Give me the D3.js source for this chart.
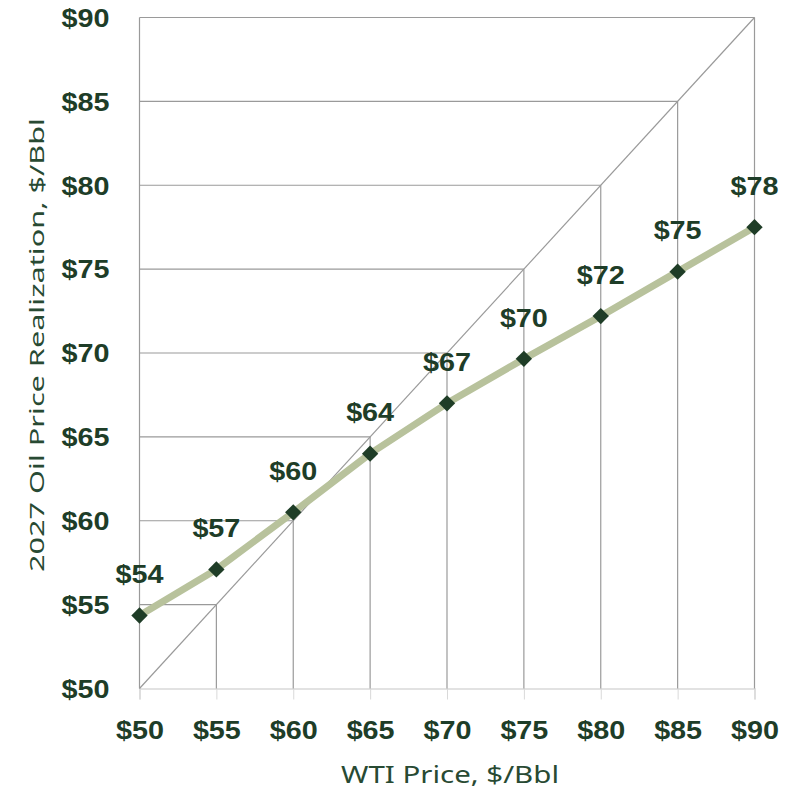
<!DOCTYPE html>
<html><head><meta charset="utf-8">
<script src="https://cdn.jsdelivr.net/npm/d3@7"></script>
<style>body{margin:0;background:#fff;}svg{display:block;}</style>
</head><body><svg id="c" width="785" height="790"></svg>
<script>
const wti = [50,55,60,65,70,75,80,85,90];
const realization = [54.35,57.1,60.5,64.0,67.0,69.65,72.2,74.85,77.5];
const pointLabels = ["$54","$57","$60","$64","$67","$70","$72","$75","$78"];
const xTicks = [50,55,60,65,70,75,80,85,90];
const yTicks = [50,55,60,65,70,75,80,85,90];
const xTitle = "WTI Price, $/Bbl";
const yTitle = "2027 Oil Price Realization, $/Bbl";

const svg = d3.select("#c");
const x = d3.scaleLinear().domain([50,90]).range([139.5,754.5]);
const y = d3.scaleLinear().domain([50,90]).range([688.5,17.5]);
const txt = "#1e3d28";
const grid = "#9a9a9a";
const boldFont = "Liberation Sans, Arial, sans-serif";
function styleBold(sel){
  sel.attr("fill",txt).attr("font-family",boldFont).attr("font-weight","bold")
     .attr("font-size",25).attr("textLength",48).attr("lengthAdjust","spacingAndGlyphs");
}

// bottom axis
const xAxis = d3.axisBottom(x).tickValues(xTicks).tickSize(11).tickFormat(d=>"$"+d);
const gx = svg.append("g").attr("transform","translate(0,688.5)").call(xAxis);
gx.select(".domain").attr("stroke","#d9d9d9").attr("stroke-width",1.5);
gx.selectAll(".tick line").attr("stroke","#d9d9d9");
gx.selectAll(".tick text").attr("y",41.5).attr("dy","0.35em").call(styleBold);

// left axis labels
const yAxis = d3.axisLeft(y).tickValues(yTicks).tickSize(0).tickPadding(30).tickFormat(d=>"$"+d);
const gy = svg.append("g").attr("transform","translate(139.5,0)").call(yAxis);
gy.select(".domain").remove();
gy.selectAll(".tick text").attr("dy","0.35em").call(styleBold);

// grid: vertical from bottom to diagonal, horizontal from left to diagonal
const g = svg.append("g").attr("stroke",grid).attr("stroke-width",1.2).attr("fill","none");
g.selectAll("line.v").data(xTicks.slice(1)).join("line")
  .attr("x1",d=>x(d)).attr("x2",d=>x(d)).attr("y1",y(50)).attr("y2",d=>y(d));
g.selectAll("line.h").data(yTicks.slice(1)).join("line")
  .attr("x1",x(50)).attr("x2",d=>x(d)).attr("y1",d=>y(d)).attr("y2",d=>y(d));
g.append("line").attr("x1",x(50)).attr("x2",x(50)).attr("y1",y(50)).attr("y2",y(90));
g.append("line").attr("x1",x(50)).attr("y1",y(50)).attr("x2",x(90)).attr("y2",y(90));

// series line
const data = wti.map((w,i)=>({w, r:realization[i], l:pointLabels[i]}));
svg.append("path").datum(data).attr("fill","none").attr("stroke","#b8c29c").attr("stroke-width",7)
  .attr("stroke-linejoin","round")
  .attr("d", d3.line().x(d=>x(d.w)).y(d=>y(d.r)));

// markers
svg.selectAll("path.m").data(data).join("path")
  .attr("d", d3.symbol().type(d3.symbolDiamond2).size(170))
  .attr("transform",d=>`translate(${x(d.w)},${y(d.r)})`)
  .attr("fill","#1f3d27");

// labels
svg.selectAll("text.pl").data(data).join("text")
  .attr("x",d=>x(d.w)).attr("y",d=>y(d.r)-41).attr("dy","0.35em")
  .attr("text-anchor","middle").call(styleBold)
  .text(d=>d.l);

// titles
svg.append("text").attr("x",450).attr("y",775).attr("dy","0.35em").attr("text-anchor","middle")
  .attr("fill","#284a33").attr("font-family","Noto Sans, sans-serif").attr("font-size",24)
  .attr("textLength",218).attr("lengthAdjust","spacingAndGlyphs").text(xTitle);
svg.append("text").attr("transform","translate(37,345) rotate(-90)").attr("dy","0.35em").attr("text-anchor","middle")
  .attr("fill","#284a33").attr("font-family","Noto Sans, sans-serif").attr("font-size",20.5)
  .attr("textLength",454).attr("lengthAdjust","spacingAndGlyphs").text(yTitle);
</script></body></html>
